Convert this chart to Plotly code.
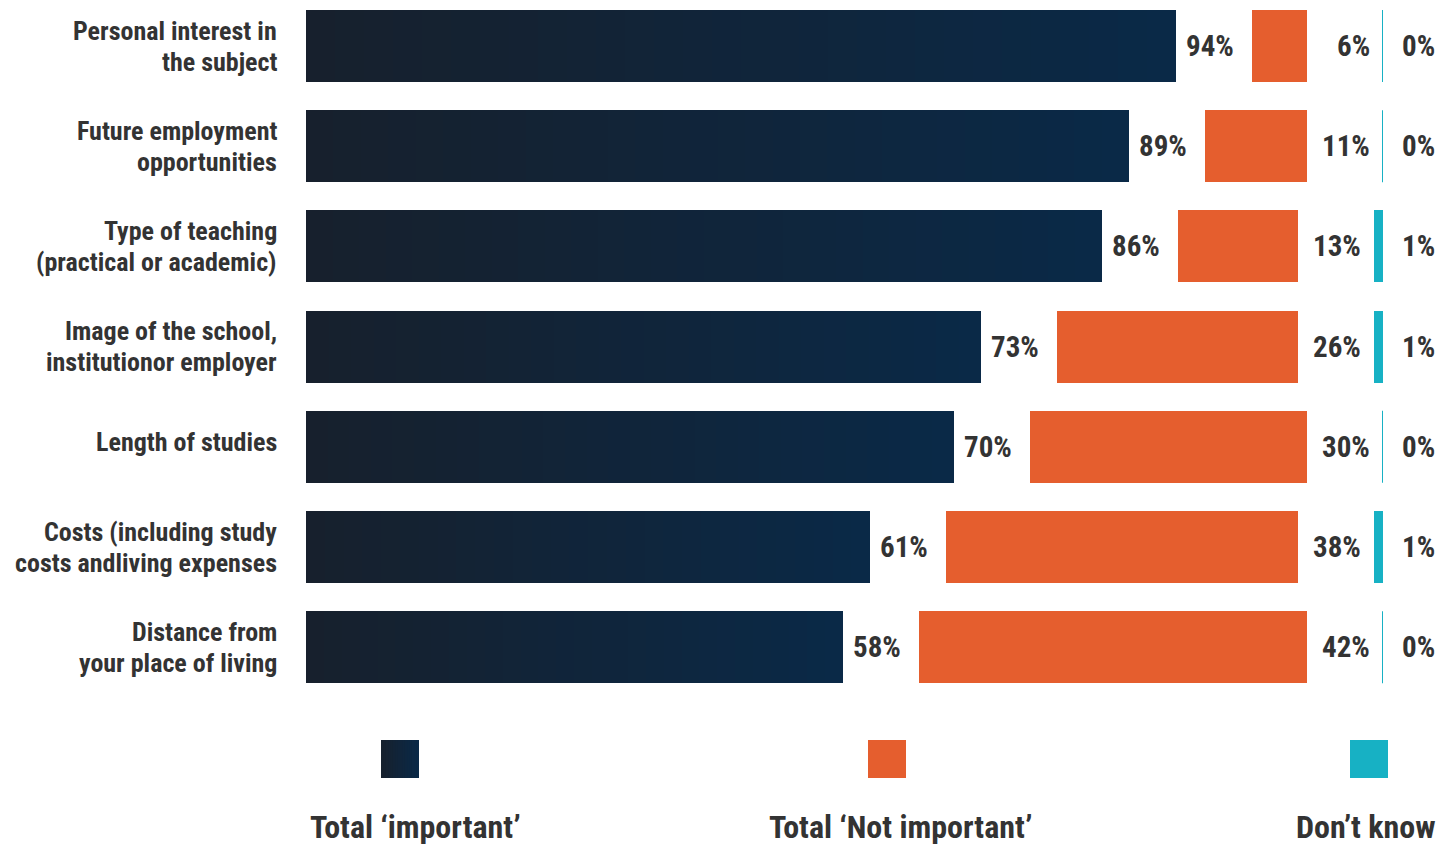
import plotly.graph_objects as go

# Survey answers: how important each factor is when choosing studies (%)
categories = [
    "Personal interest in<br>the subject",
    "Future employment<br>opportunities",
    "Type of teaching<br>(practical or academic)",
    "Image of the school,<br>institutionor employer",
    "Length of studies",
    "Costs (including study<br>costs andliving expenses",
    "Distance from<br>your place of living",
]
important = [94, 89, 86, 73, 70, 61, 58]
not_important = [6, 11, 13, 26, 30, 38, 42]
dont_know = [0, 0, 1, 1, 0, 1, 0]
series_names = ["Total ‘important’", "Total ‘Not important’", "Don’t know"]

# ---- styling ----
W, H = 1455, 848
FONT = "Liberation Sans Narrow, Arial Narrow, Roboto Condensed, sans-serif"
TEXT = "#333333"
NAVY_L = (23, 32, 44)     # left end of the navy gradient
NAVY_R = (10, 41, 71)     # right end of the navy gradient
ORANGE = "#e55e2e"
TEAL = "#17b1c4"
PX_PER_PCT = 9.25         # horizontal scale shared by both bar groups
LEFT_ORIGIN = 306         # px where the 'important' bars start
RIGHT_ORIGIN = 1383       # px where the right-hand group is anchored
GAP = 8.2                 # % units of empty space between orange and teal
BAR_W = 0.72
ROW_TOP, ROW_STEP = 46, 100.2

rows = list(range(len(categories)))


def mix(t):
    c = [round(a + (b - a) * t) for a, b in zip(NAVY_L, NAVY_R)]
    return "rgb({},{},{})".format(*c)


fig = go.Figure()

# navy bars: overlaid layers that get shorter and darker -> left-to-right gradient
N = 30
for k in range(N):
    frac = (N - k) / N
    fig.add_trace(go.Bar(
        y=rows, x=[v * frac for v in important], orientation="h",
        width=BAR_W, marker=dict(color=mix(frac), line=dict(width=0)),
        xaxis="x", yaxis="y", hoverinfo="skip", showlegend=False,
    ))

# right-hand group on a reversed axis: teal from the anchor, then a gap, then orange
fig.add_trace(go.Bar(
    y=rows, x=not_important, base=[d + GAP for d in dont_know], orientation="h",
    width=BAR_W, marker=dict(color=ORANGE, line=dict(width=0)),
    xaxis="x2", yaxis="y", hoverinfo="skip", showlegend=False,
))
fig.add_trace(go.Bar(
    y=rows, x=dont_know, orientation="h",
    width=BAR_W, marker=dict(color=TEAL, line=dict(width=0)),
    xaxis="x2", yaxis="y", hoverinfo="skip", showlegend=False,
))
# zero-valued "don't know" answers are drawn as a thin teal rule
zx, zy = [], []
for r, d in zip(rows, dont_know):
    if d == 0:
        zx += [d, d, None]
        zy += [r - BAR_W / 2, r + BAR_W / 2, None]
fig.add_trace(go.Scatter(
    x=zx, y=zy, mode="lines", line=dict(color=TEAL, width=2),
    xaxis="x2", yaxis="y", hoverinfo="skip", showlegend=False,
))

annotations = []
lab_font = dict(family=FONT, size=29, color=TEXT, weight="bold")
for r, v, n, d in zip(rows, important, not_important, dont_know):
    annotations.append(dict(x=v, y=r, xref="x", yref="y", text=f"{v}%",
                            xanchor="left", yanchor="middle", xshift=8,
                            showarrow=False, font=lab_font))
    annotations.append(dict(x=d, y=r, xref="x2", yref="y", text=f"{n}%",
                            xanchor="right", yanchor="middle", xshift=-11,
                            showarrow=False, font=lab_font))
    annotations.append(dict(x=0, y=r, xref="x2", yref="y", text=f"{d}%",
                            xanchor="left", yanchor="middle", xshift=17,
                            showarrow=False, font=lab_font))

# category labels, right-aligned, one annotation per line
cat_font = dict(family=FONT, size=26, color=TEXT, weight="bold")
LINE = 31
for r, c in zip(rows, categories):
    lines = c.split("<br>")
    for i, ln in enumerate(lines):
        off = (i - (len(lines) - 1) / 2) * LINE
        if len(lines) == 1:
            off = -5
        annotations.append(dict(x=279 / W, y=r, xref="paper", yref="y", text=ln,
                                xanchor="right", yanchor="middle", yshift=-off,
                                showarrow=False, font=cat_font))

# legend: swatches with captions underneath
shapes = []
sw_left = [381, 868, 1350]
cap_center = [415, 900, 1366]
SW, SW_TOP = 38, 740
sw_colors = [None, ORANGE, TEAL]
for i, name in enumerate(series_names):
    x0 = sw_left[i]
    if sw_colors[i] is None:
        # gradient swatch: shrinking overlaid rectangles, no seams
        M = 16
        for k in range(M):
            frac = (M - k) / M
            shapes.append(dict(type="rect", xref="paper", yref="paper",
                               x0=x0 / W, x1=(x0 + SW * frac) / W,
                               y0=1 - (SW_TOP + SW) / H, y1=1 - SW_TOP / H,
                               fillcolor=mix(frac), line=dict(width=0), layer="above"))
    else:
        shapes.append(dict(type="rect", xref="paper", yref="paper",
                           x0=x0 / W, x1=(x0 + SW) / W,
                           y0=1 - (SW_TOP + SW) / H, y1=1 - SW_TOP / H,
                           fillcolor=sw_colors[i], line=dict(width=0), layer="above"))
    annotations.append(dict(x=cap_center[i] / W, y=1 - 827 / H, xref="paper", yref="paper",
                            text=name, xanchor="center", yanchor="middle", showarrow=False,
                            font=dict(family=FONT, size=32, color=TEXT, weight="bold")))

y_top = -ROW_TOP / ROW_STEP
y_bot = (H - ROW_TOP) / ROW_STEP

fig.update_layout(
    width=W, height=H,
    margin=dict(l=0, r=0, t=0, b=0),
    paper_bgcolor="white", plot_bgcolor="rgba(0,0,0,0)",
    barmode="overlay", bargap=0,
    showlegend=False,
    xaxis=dict(domain=[LEFT_ORIGIN / W, 1],
               range=[0, (W - LEFT_ORIGIN) / PX_PER_PCT],
               visible=False, fixedrange=True),
    xaxis2=dict(domain=[0, RIGHT_ORIGIN / W],
                range=[RIGHT_ORIGIN / PX_PER_PCT, 0],
                anchor="y", visible=False, fixedrange=True),
    yaxis=dict(range=[y_bot, y_top], domain=[0, 1], visible=False, fixedrange=True),
    annotations=annotations,
    shapes=shapes,
)

fig.write_html("out.html", config={"displayModeBar": False})
